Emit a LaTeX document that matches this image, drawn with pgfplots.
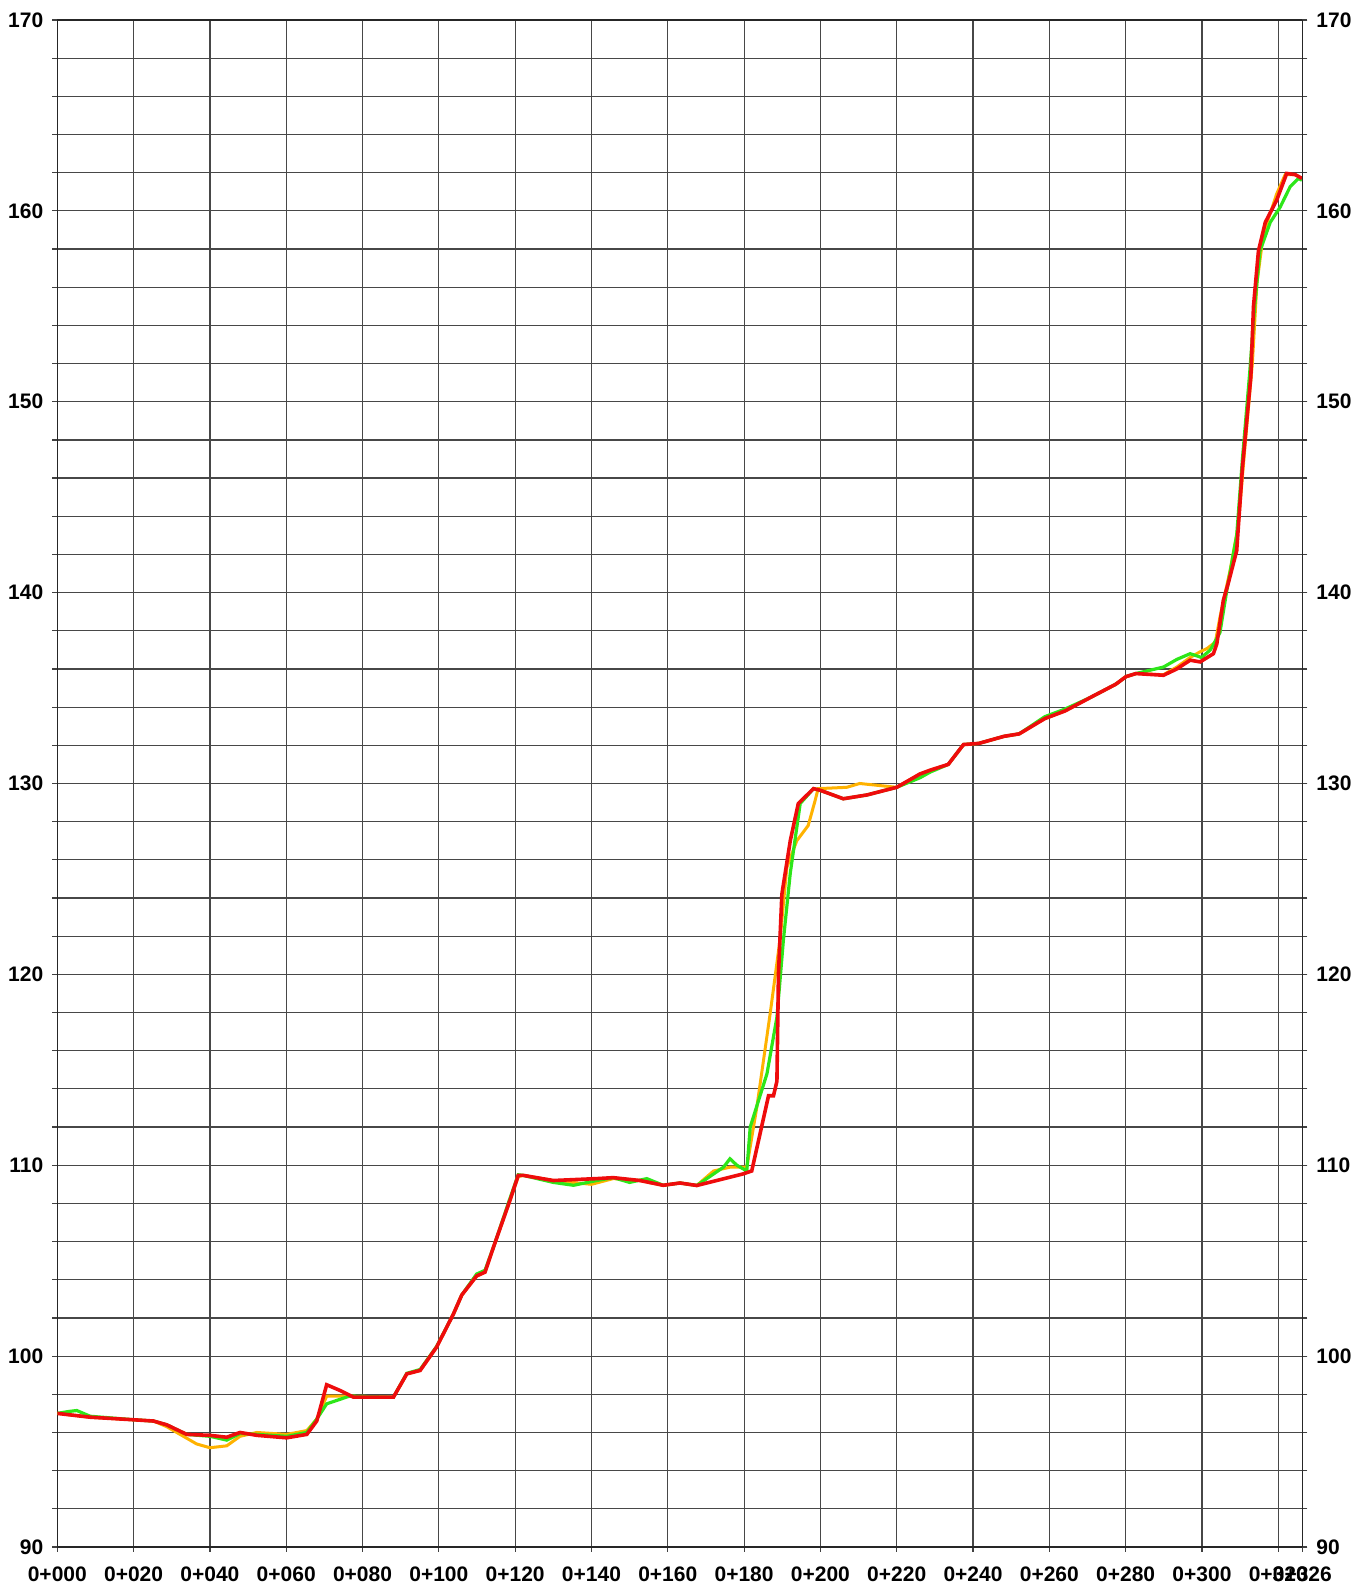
\documentclass[border=0pt]{standalone}
\usepackage{pgfplots}
\pgfplotsset{compat=1.18}
\usepackage{fontspec}
\setmainfont{Liberation Sans}
\definecolor{cred}{RGB}{238,12,12}
\definecolor{cgreen}{RGB}{45,230,25}
\definecolor{corange}{RGB}{255,178,0}
\pgfplotsset{
  common/.style={
    width=622.5pt, height=763.5pt, scale only axis,
    xmin=0, xmax=326.3, ymin=90, ymax=170,
    tick align=outside, major tick length=2.5pt, minor tick length=2.5pt,
    tick style={black!75, line width=0.6pt},
    /pgf/number format/assume math mode=true,
    tick label style={font=\fontsize{10.5}{12}\selectfont\bfseries},
  }
}
\begin{document}
\begin{tikzpicture}
\begin{axis}[common,
  axis line style={black!85, line width=0.6pt},
  xtick={0,20,40,60,80,100,120,140,160,180,200,220,240,260,280,300,320,326.3},
  xticklabels={0+000,0+020,0+040,0+060,0+080,0+100,0+120,0+140,0+160,0+180,0+200,0+220,0+240,0+260,0+280,0+300,0+320,0+326},
  xtick pos=left,
  xticklabel style={yshift=-4pt},
  ytick={90,100,...,170},
  minor ytick={92,94,96,98,102,104,106,108,112,114,116,118,122,124,126,128,132,134,136,138,142,144,146,148,152,154,156,158,162,164,166,168},
  xmajorgrids=true, ymajorgrids=true, yminorgrids=true,
  major grid style={draw=black!72, line width=0.6pt},
  minor grid style={draw=black!72, line width=0.6pt},
  yticklabel style={xshift=-1pt},
]
\coordinate (SW) at (rel axis cs:0,0);
\coordinate (NE) at (rel axis cs:1,1);
% orange
\addplot[corange, line width=1.5pt] coordinates {
(0,97.0)(8.6,96.8)(20.4,96.66)(25.2,96.6)(28.7,96.3)(33.9,95.7)(36.5,95.4)(40.0,95.2)(44.4,95.3)(47.9,95.8)(52.3,96.0)(60.1,95.9)(65.4,96.1)(68.0,96.7)(70.6,97.9)(77.6,97.9)(88.1,97.85)
(91.6,99.07)(95.1,99.25)(99.4,100.47)(103.8,102.2)(106.0,103.2)(109.9,104.2)(112.1,104.4)(114.3,105.7)(118.7,108.2)(120.8,109.4)(122.1,109.47)
(130.0,109.2)(140.0,109.0)(145.7,109.3)(152.7,109.2)(158.8,108.95)(163.2,109.07)(167.6,108.94)(172.0,109.7)(176.3,109.9)(180.7,109.9)
(183.3,113.0)(186.8,117.9)(189.4,121.8)(191.2,125.6)(193.8,127.0)(196.8,127.8)(198.6,129.1)(199.4,129.73)(206.9,129.8)(210.3,130.0)(220.0,129.8)
(226.1,130.5)(228.8,130.7)(233.5,131.0)(237.5,132.04)(241.5,132.1)(248.1,132.47)(252.1,132.6)(258.8,133.4)(264.1,133.8)(270.7,134.5)(277.4,135.2)(280.1,135.6)(282.7,135.76)(289.9,135.7)(293.4,136.1)(296.9,136.6)(299.5,136.9)
(301.3,137.07)(303.5,137.4)(304.7,138.7)(307.4,141.2)(309.5,143.5)(311.2,147.5)(313.2,152.0)(314.4,156.2)(316.1,158.8)(319.6,160.9)(321.8,161.9)(324.4,161.9)(326.2,161.7)
};
% green
\addplot[cgreen, line width=1.6pt] coordinates {
(0,97.0)(3.0,97.1)(5.1,97.15)(8.6,96.85)(20.4,96.66)(25.2,96.6)(28.7,96.4)(33.9,95.9)(40.0,95.8)(44.4,95.6)(47.9,95.95)(52.3,95.9)(60.1,95.8)(65.4,96.0)(68.0,96.7)(70.6,97.5)(76.5,97.9)(88.1,97.85)
(91.6,99.1)(95.1,99.3)(99.4,100.5)(103.8,102.2)(106.0,103.2)(109.9,104.3)(112.1,104.5)(114.3,105.7)(118.7,108.3)(120.8,109.5)(122.1,109.47)
(130.0,109.1)(135.3,108.95)(141.4,109.2)(145.7,109.35)(150.0,109.1)(154.5,109.3)(158.8,108.95)(163.2,109.07)(167.6,108.94)(174.6,109.9)(176.3,110.34)(178.1,110.0)(180.7,109.7)
(181.6,112.0)(186.0,114.8)(188.6,117.76)(190.3,121.8)(192.1,125.3)(194.7,128.95)(198.2,129.73)(200.0,129.64)(206.0,129.2)(212.2,129.4)(220.0,129.8)
(226.1,130.3)(228.8,130.6)(233.5,131.0)(237.5,132.04)(241.5,132.1)(248.1,132.47)(252.1,132.6)(258.8,133.5)(264.1,133.9)(270.7,134.5)(277.4,135.2)(280.1,135.6)(282.7,135.76)(289.9,136.1)(293.4,136.5)(296.9,136.8)(299.9,136.6)
(302.2,137.0)(304.7,137.9)(306.5,140.1)(309.1,143.0)(310.6,147.0)(312.5,151.5)(313.8,155.0)(315.2,157.9)(317.9,159.4)(320.5,160.2)(323.1,161.26)(325.3,161.7)(326.2,161.6)
};
% red
\addplot[cred, line width=1.8pt] coordinates {
(0,97.0)(8.6,96.8)(20.4,96.66)(25.2,96.6)(28.7,96.4)(33.9,95.9)(40.0,95.85)(44.4,95.75)(47.9,96.0)(52.3,95.85)(60.1,95.72)(65.4,95.9)(68.0,96.6)(70.6,98.5)(74.1,98.2)(77.6,97.85)(88.1,97.85)
(91.6,99.07)(95.1,99.25)(99.4,100.47)(103.8,102.2)(106.0,103.2)(109.9,104.2)(112.1,104.4)(114.3,105.7)(118.7,108.2)(120.8,109.47)(122.1,109.47)
(130.0,109.2)(141.4,109.3)(145.7,109.35)(152.7,109.2)(158.8,108.95)(163.2,109.07)(167.6,108.94)(174.6,109.29)(179.8,109.55)(182.0,109.7)
(186.4,113.64)(187.7,113.64)(188.6,114.4)(189.0,120.0)(189.9,124.2)(192.1,127.0)(194.2,128.95)(198.2,129.73)(200.0,129.64)(206.0,129.2)(212.2,129.4)(220.0,129.8)
(226.1,130.5)(228.8,130.7)(233.5,131.0)(237.5,132.04)(241.5,132.1)(248.1,132.47)(252.1,132.6)(258.8,133.4)(264.1,133.8)(270.7,134.5)(277.4,135.2)(280.1,135.6)(282.7,135.76)(289.9,135.67)(293.4,136.0)(296.9,136.46)(299.5,136.37)
(303.0,136.8)(303.9,137.33)(305.6,139.6)(306.9,140.5)(309.1,142.2)(310.6,146.55)(312.8,151.3)(313.5,155.0)(314.8,157.9)(316.6,159.4)(319.6,160.57)(322.2,161.96)(324.4,161.9)(326.2,161.7)
};
\end{axis}
\begin{axis}[common,
  hide x axis,
  axis y line*=right,
  axis line style={black!85, line width=0.6pt},
  ytick={90,100,...,170},
  yticklabel style={xshift=1pt},
]
\addplot[draw=none] coordinates {(0,90)};
\end{axis}
\pgfresetboundingbox
\path[use as bounding box] ([shift={(-28.65pt,-22pt)}]SW) rectangle ([shift={(34.5pt,10pt)}]NE);
\end{tikzpicture}
\end{document}
